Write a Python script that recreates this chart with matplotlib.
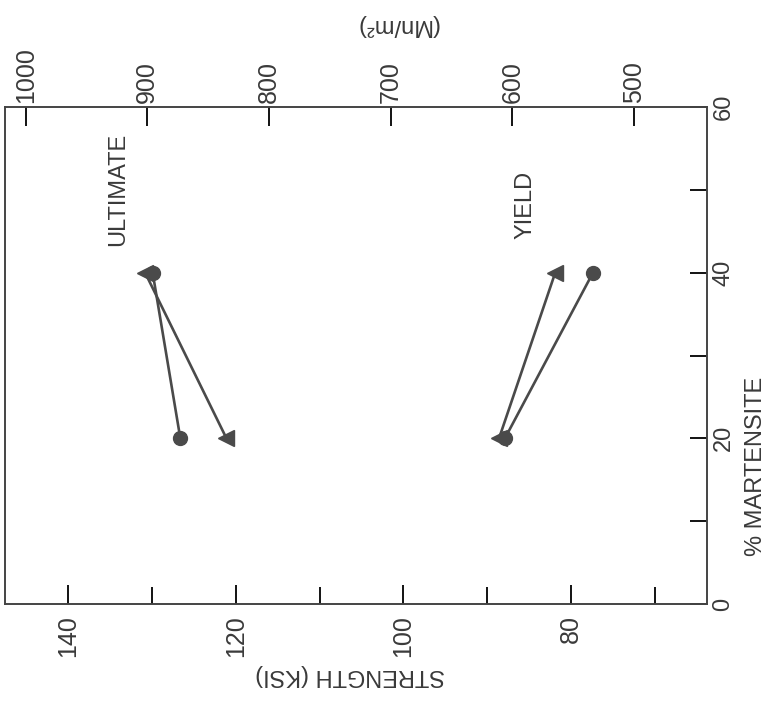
import matplotlib.pyplot as plt

# --- data (strength in ksi vs % martensite) ---
martensite = [20, 40]
ult_circle = [126.6, 129.9]
ult_tri = [121.1, 130.8]
yld_circle = [87.9, 77.4]
yld_tri = [88.6, 81.9]

ksi_ticks = [140, 120, 100, 80]
ksi_minor = [130, 110, 90, 70]
mpa_ticks = [1000, 900, 800, 700, 600, 500]
pct_ticks = [0, 10, 20, 30, 40, 50, 60]
pct_labels = ["0", "", "20", "", "40", "", "60"]

plt.rcParams['font.family'] = ['Liberation Sans', 'DejaVu Sans']
ink = "#3a3a3a"

fig = plt.figure(figsize=(7.74, 7.03), dpi=100)
ax = fig.add_axes([0.0065, 0.1408, 0.907, 0.707])

# figure is drawn turned on its side: strength runs right-to-left along x
ax.plot(ult_circle, martensite, color="#4a4a4a", lw=1.9, marker="o", ms=10)
ax.plot(ult_tri, martensite, color="#4a4a4a", lw=1.9, marker="<", ms=12)
ax.plot(yld_circle, martensite, color="#4a4a4a", lw=1.9, marker="o", ms=10)
ax.plot(yld_tri, martensite, color="#4a4a4a", lw=1.9, marker="<", ms=12)

ax.set_xlim(147.5, 63.8)
ax.set_ylim(0, 60)

ax.set_xticks(ksi_ticks)
ax.set_xticklabels([str(t) for t in ksi_ticks], rotation=90, color=ink, fontsize=18)
ax.set_xticks(ksi_minor, minor=True)
ax.tick_params(axis="x", which="major", direction="in", length=14, width=1.3, pad=8, top=False)
ax.tick_params(axis="x", which="minor", direction="in", length=12, width=1.3, top=False)

ax.yaxis.tick_right()
ax.set_yticks(pct_ticks)
ax.set_yticklabels(pct_labels, rotation=90, va="center", color=ink, fontsize=17)
ax.tick_params(axis="y", direction="in", length=12, width=1.3, pad=4, left=False)

sec = ax.secondary_xaxis("top", functions=(lambda k: k * 6.895, lambda m: m / 6.895))
sec.set_xticks(mpa_ticks)
sec.set_xticklabels([str(t) for t in mpa_ticks], rotation=90, color=ink, fontsize=18)
sec.tick_params(direction="in", length=14, width=1.3, pad=3)
sec.spines["top"].set_visible(False)

for s in ax.spines.values():
    s.set_linewidth(1.4)
    s.set_color("#444444")

ax.text(134.0, 50.0, "ULTIMATE", rotation=90, ha="center", va="center", fontsize=17, color=ink)
ax.text(85.5, 48.2, "YIELD", rotation=90, ha="center", va="center", fontsize=17, color=ink)

fig.text(0.452, 0.04, "STRENGTH (KSI)", rotation=180, ha="center", va="center", fontsize=17, color=ink)
fig.text(0.513, 0.964, "(Mn/m²)", rotation=180, ha="center", va="center", fontsize=17, color=ink)
fig.text(0.977, 0.336, "% MARTENSITE", rotation=90, ha="center", va="center", fontsize=17, color=ink)

fig.savefig("out.png", dpi=100)
